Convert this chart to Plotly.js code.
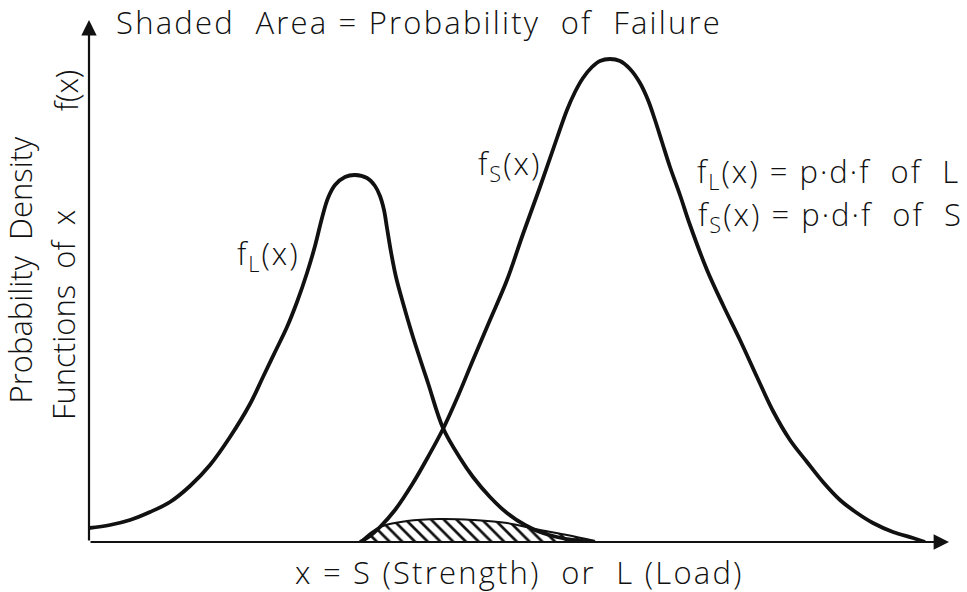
<!DOCTYPE html>
<html>
<head>
<meta charset="utf-8">
<script src="https://cdn.plot.ly/plotly-3.0.1.min.js"></script>
<style>
html,body{margin:0;padding:0;background:#fff;}
#chart{width:967px;height:592px;}
.annotation[data-index="2"] text, .annotation[data-index="3"] text { letter-spacing: 2.2px; }
.annotation[data-index="7"] text, .annotation[data-index="8"] text,
.annotation[data-index="9"] text, .annotation[data-index="10"] text { letter-spacing: 2px; }
</style>
</head>
<body>
<div id="chart"></div>
<script>
// Load density f_L(x)
const loadX = [0, 2.1, 4.1, 6.1, 8.1, 10.1, 12.1, 14.1, 16.1, 17.4, 18.6, 19.8, 20.8, 21.8, 22.6, 23.3, 23.9, 24.6, 25.6, 26.6, 27.8, 28.6, 29.1, 29.5, 29.8, 30.2, 30.7, 31.4, 32.4, 33.9, 35.4, 37.1, 38.4, 40.1, 41.8, 43.6, 45.1, 46.8, 48.4, 50.6];
const loadY = [1.4, 1.7, 2.2, 3.0, 4.0, 5.6, 7.7, 10.5, 13.8, 16.5, 19.0, 21.5, 24.0, 26.9, 29.6, 32.4, 34.4, 35.7, 36.5, 36.7, 36.4, 35.6, 34.6, 33.2, 31.4, 29.0, 26.5, 23.9, 20.5, 15.9, 11.4, 8.4, 6.5, 4.5, 2.9, 1.7, 1.0, 0.5, 0.2, 0];
// Strength density f_S(x)
const strengthX = [27.1, 28.1, 29.1, 30.6, 32.4, 33.9, 35.4, 36.9, 38.4, 40.1, 41.8, 43.4, 45.1, 46.8, 47.8, 48.6, 49.4, 50.3, 51.1, 52.1, 53.1, 54.1, 55.1, 55.9, 56.6, 57.3, 58.1, 59.1, 60.1, 61.8, 63.4, 65.1, 66.8, 68.4, 70.1, 71.8, 73.4, 75.1, 76.8, 78.4, 80.4, 82.4, 83.6];
const strengthY = [0, 0.6, 1.5, 3.2, 5.9, 8.5, 11.3, 14.6, 18.2, 22.2, 26.2, 30.8, 35.5, 40.4, 43.2, 45.0, 46.4, 47.5, 48.1, 48.3, 48.1, 47.3, 45.9, 44.2, 42.2, 40.0, 37.5, 34.7, 31.7, 27.2, 23.7, 20.2, 16.5, 13.1, 10.2, 8.0, 6.0, 4.2, 2.9, 1.9, 1.0, 0.4, 0];
// Shaded area (probability of failure)
const failX = [27.1, 29.1, 31.8, 35.1, 38.4, 41.8, 45.1, 47.8, 50.6];
const failY = [0, 1.5, 2.1, 2.3, 2.2, 1.9, 1.2, 0.7, 0.1];

const titleText = "Shaded\u00a0 Area = Probability\u00a0 of\u00a0 Failure";
const xLabel = "x = S (Strength)\u00a0 or\u00a0 L (Load)";
const yLabel1 = "Probability\u00a0 Density";
const yLabel2 = "Functions\u00a0 of\u00a0 x";
const yLabel3 = "f(x)";
const labelL = "f<sub>L</sub>(x)";
const labelS = "f<sub>S</sub>(x)";
const legendL = "f<sub>L</sub>(x) = p·d·f\u00a0 of\u00a0 L";
const legendS = "f<sub>S</sub>(x) = p·d·f\u00a0 of\u00a0 S";

const ink = '#111';
const FONT = 'Open Sans, DejaVu Sans, sans-serif';
const fnt = (s) => ({family: FONT, size: s, color: ink, weight: 300});

const traces = [
  {x: failX, y: failY, mode: 'lines', line: {color: ink, width: 2, shape: 'spline'},
   fill: 'tozeroy', fillcolor: 'rgba(0,0,0,0)',
   fillpattern: {shape: '\\', size: 9, solidity: 0.3, fgcolor: ink, bgcolor: 'white'},
   hoverinfo: 'skip'},
  {x: loadX, y: loadY, mode: 'lines', line: {color: ink, width: 3.8, shape: 'spline', smoothing: 1}, hoverinfo: 'skip'},
  {x: strengthX, y: strengthY, mode: 'lines', line: {color: ink, width: 3.8, shape: 'spline', smoothing: 1}, hoverinfo: 'skip'}
];

const annotations = [
  // axes with arrows
  {x: 86.0, y: 0, ax: 0, ay: 0, xref: 'x', yref: 'y', axref: 'x', ayref: 'y', text: '', showarrow: true, arrowhead: 2, arrowsize: 1.4, arrowwidth: 2.2, arrowcolor: ink},
  {x: 0, y: 52.2, ax: 0, ay: 0, xref: 'x', yref: 'y', axref: 'x', ayref: 'y', text: '', showarrow: true, arrowhead: 2, arrowsize: 1.4, arrowwidth: 2.2, arrowcolor: ink},
  // texts (centre-anchored so the extra letter spacing spreads evenly)
  {x: 33.0, y: 52.0, xref: 'x', yref: 'y', text: titleText, showarrow: false, xanchor: 'center', yanchor: 'middle', font: fnt(31)},
  {x: 0.495, y: -0.057, xref: 'paper', yref: 'paper', text: xLabel, showarrow: false, xanchor: 'center', yanchor: 'middle', font: fnt(31)},
  {x: -0.079, y: 0.513, xref: 'paper', yref: 'paper', text: yLabel1, showarrow: false, textangle: -90, xanchor: 'center', yanchor: 'middle', font: fnt(31)},
  {x: -0.030, y: 0.428, xref: 'paper', yref: 'paper', text: yLabel2, showarrow: false, textangle: -90, xanchor: 'center', yanchor: 'middle', font: fnt(31)},
  {x: -0.026, y: 0.853, xref: 'paper', yref: 'paper', text: yLabel3, showarrow: false, textangle: -90, xanchor: 'center', yanchor: 'middle', font: fnt(31)},
  {x: 17.9, y: 28.7, xref: 'x', yref: 'y', text: labelL, showarrow: false, xanchor: 'center', yanchor: 'middle', font: fnt(31)},
  {x: 42.0, y: 37.7, xref: 'x', yref: 'y', text: labelS, showarrow: false, xanchor: 'center', yanchor: 'middle', font: fnt(31)},
  {x: 73.9, y: 36.9, xref: 'x', yref: 'y', text: legendL, showarrow: false, xanchor: 'center', yanchor: 'middle', font: fnt(31)},
  {x: 74.1, y: 32.6, xref: 'x', yref: 'y', text: legendS, showarrow: false, xanchor: 'center', yanchor: 'middle', font: fnt(31)}
];

const hiddenAxis = {showgrid: false, zeroline: false, showline: false, showticklabels: false, ticks: '', fixedrange: true};

const layout = {
  width: 967, height: 592,
  margin: {l: 89, r: 8, t: 12, b: 50},
  paper_bgcolor: 'white', plot_bgcolor: 'white',
  showlegend: false,
  xaxis: Object.assign({range: [0, 87]}, hiddenAxis),
  yaxis: Object.assign({range: [0, 53]}, hiddenAxis),
  annotations: annotations
};

Plotly.newPlot('chart', traces, layout, {displayModeBar: false, staticPlot: true});
</script>
</body>
</html>
